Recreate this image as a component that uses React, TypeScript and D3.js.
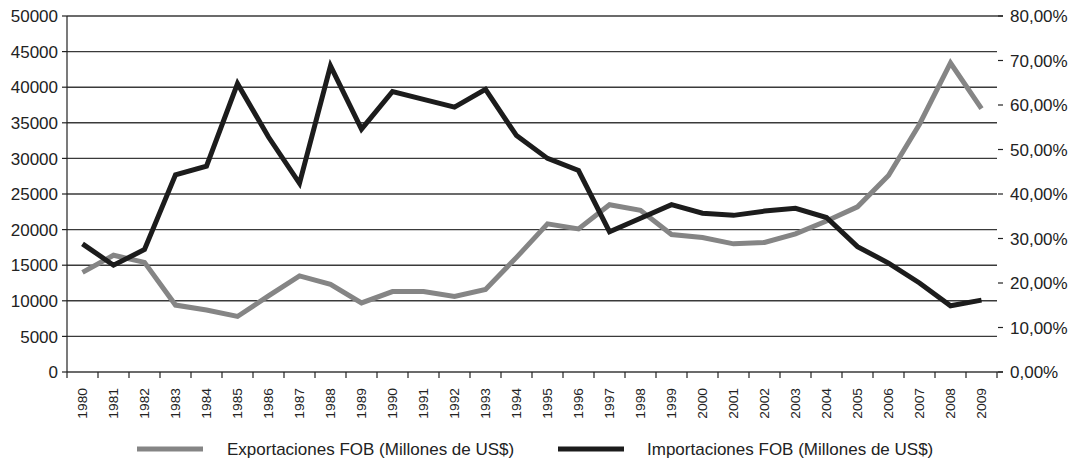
import React from "react";
import * as d3 from "d3";

const years = [
  "1980","1981","1982","1983","1984","1985","1986","1987","1988","1989",
  "1990","1991","1992","1993","1994","1995","1996","1997","1998","1999",
  "2000","2001","2002","2003","2004","2005","2006","2007","2008","2009",
];
const exportaciones = [
  14000, 16400, 15400, 9400, 8700, 7800, 10700, 13500, 12300, 9700,
  11300, 11300, 10600, 11600, 16100, 20800, 20100, 23500, 22700, 19300,
  18900, 18000, 18200, 19400, 21200, 23200, 27600, 34800, 43400, 37000,
];
const importaciones = [
  18000, 15000, 17200, 27700, 28900, 40500, 33000, 26500, 43000, 34100,
  39400, 38300, 37200, 39700, 33200, 30000, 28300, 19700, 21600, 23500,
  22300, 22000, 22600, 23000, 21700, 17600, 15300, 12500, 9300, 10100,
];
const leftTicks = [0, 5000, 10000, 15000, 20000, 25000, 30000, 35000, 40000, 45000, 50000];
const rightTicks = [0, 0.1, 0.2, 0.3, 0.4, 0.5, 0.6, 0.7, 0.8];
const seriesNames = [
  "Exportaciones FOB (Millones de US$)",
  "Importaciones FOB (Millones de US$)",
];

const W = 1075;
const H = 464;
const left = 67;
const right = 997;
const top = 16;
const bottom = 372;
const FONT = "'Liberation Sans', Arial, sans-serif";

export default function App() {
  const x = d3.scaleBand<string>().domain(years).range([left, right]).padding(0);
  const y = d3.scaleLinear().domain([0, 50000]).range([bottom, top]);
  const yR = d3.scaleLinear().domain([0, 0.8]).range([bottom, top]);
  const cx = (d: string) => (x(d) ?? 0) + x.bandwidth() / 2;
  const line = d3
    .line<number>()
    .x((_, i) => cx(years[i]))
    .y((v) => y(v));
  const fmtR = (v: number) => (v * 100).toFixed(2).replace(".", ",") + "%";
  const boundaries = years.map((d) => x(d) ?? 0).concat([right]);

  return (
    <svg width={W} height={H} style={{ position: "absolute", left: 0, top: 0, background: "#fff" }}>
      {leftTicks.map((t) => (
        <line
          key={"g" + t}
          x1={left}
          x2={t === 0 || t === 50000 ? right + 6 : right}
          y1={y(t)}
          y2={y(t)}
          stroke="#3a3a3a"
          strokeWidth={1.4}
        />
      ))}
      <line x1={left} x2={left} y1={top} y2={bottom} stroke="#222" strokeWidth={1.2} />
      {leftTicks.map((t) => (
        <g key={"l" + t}>
          <line x1={left - 5} x2={left} y1={y(t)} y2={y(t)} stroke="#222" strokeWidth={1.2} />
          <text
            x={left - 9}
            y={y(t)}
            dy="0.36em"
            textAnchor="end"
            fontFamily={FONT}
            fontSize={17}
            fill="#222"
          >
            {t}
          </text>
        </g>
      ))}
      {rightTicks.map((t) => (
        <g key={"r" + t}>
          <line x1={right + 1} x2={right + 6} y1={yR(t)} y2={yR(t)} stroke="#222" strokeWidth={1.2} />
          <text
            x={right + 13}
            y={yR(t)}
            dy="0.36em"
            textAnchor="start"
            fontFamily={FONT}
            fontSize={17}
            fill="#222"
          >
            {fmtR(t)}
          </text>
        </g>
      ))}
      {boundaries.map((b, i) => (
        <line key={"xt" + i} x1={b} x2={b} y1={bottom} y2={bottom + 6} stroke="#222" strokeWidth={1.2} />
      ))}
      {years.map((d) => (
        <text
          key={"xl" + d}
          transform={`translate(${cx(d)},${bottom + 16}) rotate(-90) scale(1.15,1)`}
          textAnchor="end"
          dy="0.36em"
          fontFamily={FONT}
          fontSize={12}
          fill="#222"
        >
          {d}
        </text>
      ))}
      <path d={line(exportaciones) ?? ""} fill="none" stroke="#858585" strokeWidth={5} strokeLinejoin="miter" />
      <path d={line(importaciones) ?? ""} fill="none" stroke="#1c1c1c" strokeWidth={5} strokeLinejoin="miter" />
      <g>
        <line x1={137} x2={203} y1={449} y2={449} stroke="#858585" strokeWidth={5} />
        <text x={227} y={449} dy="0.36em" fontFamily={FONT} fontSize={17} fill="#222">
          {seriesNames[0]}
        </text>
        <line x1={558} x2={624} y1={449} y2={449} stroke="#1c1c1c" strokeWidth={5} />
        <text x={647} y={449} dy="0.36em" fontFamily={FONT} fontSize={17} fill="#222">
          {seriesNames[1]}
        </text>
      </g>
    </svg>
  );
}
